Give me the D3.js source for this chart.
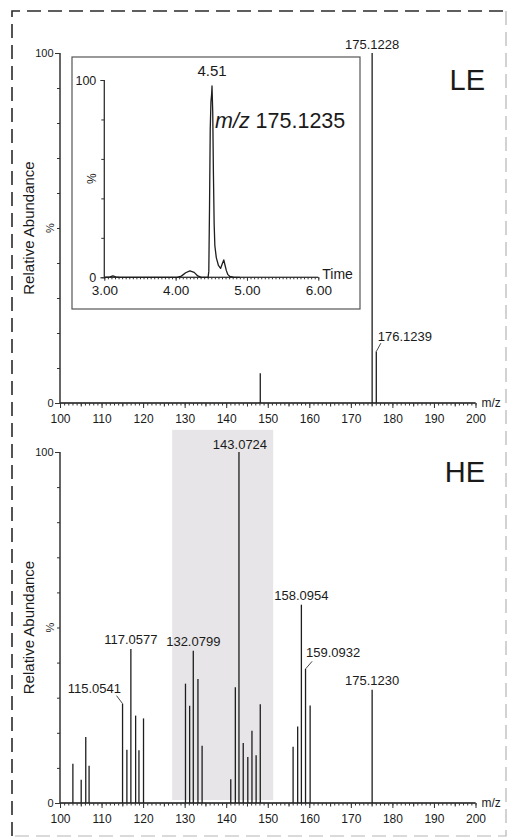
<!DOCTYPE html>
<html>
<head>
<meta charset="utf-8">
<script src="https://cdn.jsdelivr.net/npm/d3@7/dist/d3.min.js"></script>
<style>
  html, body { margin: 0; padding: 0; background: #fff; }
  svg { display: block; }
  text { font-family: "Liberation Sans", Arial, sans-serif; fill: #1a1a1a; }
</style>
</head>
<body>
<svg id="chart" width="508" height="838"></svg>
<script>
// ---- Spectrum data (m/z, relative abundance %) ----
const leMz  = [148.2, 175.1228, 176.1239];
const leInt = [8.5, 100, 14.7];

const heMz  = [103.1, 105.1, 106.2, 107.0, 115.0541, 116.1, 117.0577, 118.2, 119.0, 120.1,
               130.2, 131.2, 132.0799, 133.2, 134.2, 141.1, 142.2, 143.0724, 144.1, 145.2,
               146.2, 147.2, 148.2, 156.1, 157.2, 158.0954, 159.0932, 160.2, 175.1230];
const heInt = [11.2, 6.6, 18.8, 10.6, 28.3, 15.2, 43.9, 24.9, 15.0, 24.1,
               34.0, 27.7, 43.4, 35.3, 16.3, 6.8, 33.0, 100, 17.1, 13.1,
               20.6, 13.6, 28.1, 16.0, 21.8, 56.5, 38.2, 27.8, 32.3];

// annotated peaks
const leLabels = ["175.1228", "176.1239"];
const heLabels = ["115.0541", "117.0577", "132.0799", "143.0724", "158.0954", "159.0932", "175.1230"];

// highlighted m/z window in the HE spectrum
const heHighlight = [127.0, 151.3];

// ---- Extracted ion chromatogram, m/z 175.1235 ----
const chromTime = [3.00, 3.08, 3.12, 3.16, 3.22, 3.60, 4.02, 4.08, 4.14, 4.20, 4.26, 4.31, 4.36,
                   4.455, 4.465, 4.475, 4.485, 4.495, 4.505, 4.51, 4.52, 4.53, 4.54, 4.55, 4.57,
                   4.60, 4.63, 4.655, 4.675, 4.69, 4.71, 4.73, 4.76, 4.82, 4.90];
const chromInt  = [0, 0.2, 0.7, 0.2, 0, 0, 0, 0.6, 2.3, 3.3, 2.5, 0.7, 0,
                   0, 3, 35, 75, 89, 93, 97, 84, 52, 27, 16, 10,
                   6, 4.5, 7, 8.8, 6.5, 3.5, 1.5, 0.4, 0, 0];
const chromApex = 4.51;
const chromTicks = [3.00, 4.00, 5.00, 6.00];

const mzTicks = d3.range(100, 201, 10);

const svg = d3.select("#chart");

// outer dashed frame
const frame = svg.append("g");
frame.append("path").attr("d", "M12,836 L12,11 L506,11")
  .attr("fill", "none").attr("stroke", "#2a2a2a").attr("stroke-width", 1.6)
  .attr("stroke-dasharray", "14,7");
frame.append("path").attr("d", "M506,11 L506,836 L12,836")
  .attr("fill", "none").attr("stroke", "#b5b5b5").attr("stroke-width", 1.2)
  .attr("stroke-dasharray", "14,7");

const x = d3.scaleLinear().domain([100, 200]).range([60, 475.5]);

function drawPanel(cfg) {
  const y = d3.scaleLinear().domain([0, 100]).range([cfg.y0, cfg.y100]);
  const g = svg.append("g");

  if (cfg.highlight) {
    g.append("rect")
      .attr("x", x(cfg.highlight[0]))
      .attr("width", x(cfg.highlight[1]) - x(cfg.highlight[0]))
      .attr("y", y(106.3))
      .attr("height", y(0) - 3 - y(106.3))
      .attr("fill", "#e7e5e7");
  }

  // minor x ticks (every 1 m/z)
  const xMinor = g.append("g").attr("transform", `translate(0,${cfg.y0})`)
    .call(d3.axisBottom(x).tickValues(d3.range(100, 201, 1)).tickSize(2.5).tickFormat(""));
  const xMid = g.append("g").attr("transform", `translate(0,${cfg.y0})`)
    .call(d3.axisBottom(x).tickValues(d3.range(105, 200, 10)).tickSize(3.5).tickFormat(""));
  const xMajor = g.append("g").attr("transform", `translate(0,${cfg.y0})`)
    .call(d3.axisBottom(x).tickValues(mzTicks).tickSize(5).tickPadding(6.5).tickFormat(d3.format("d")));
  [xMinor, xMid, xMajor].forEach(a => {
    a.selectAll("path, line").attr("stroke", "#333").attr("stroke-width", 1);
    a.select(".domain").attr("d", `M${x(100)},0H${x(200)}`);
  });
  xMajor.selectAll("text").attr("font-size", 12).attr("fill", "#1a1a1a")
    .attr("font-family", "Liberation Sans, Arial, sans-serif");

  // y ticks
  const yMinor = g.append("g").attr("transform", `translate(${x(100)},0)`)
    .call(d3.axisLeft(y).tickValues(d3.range(0, 101, 10)).tickSize(3).tickFormat(""));
  const yMajor = g.append("g").attr("transform", `translate(${x(100)},0)`)
    .call(d3.axisLeft(y).tickValues([0, 100]).tickSize(5).tickPadding(1.5).tickFormat(d3.format("d")));
  [yMinor, yMajor].forEach(a => {
    a.selectAll("path, line").attr("stroke", "#333").attr("stroke-width", 1);
    a.select(".domain").attr("d", `M0,${y(0)}V${y(100)}`);
  });
  yMajor.selectAll("text").attr("font-size", 11).attr("fill", "#1a1a1a")
    .attr("font-family", "Liberation Sans, Arial, sans-serif");

  g.append("text").attr("x", x(200) + 6).attr("y", cfg.y0 + 4)
    .attr("font-size", 12).text("m/z");

  const yMid = (cfg.y0 + cfg.y100) / 2;
  g.append("text").attr("transform", `translate(34,${yMid}) rotate(-90)`)
    .attr("text-anchor", "middle").attr("font-size", 15).text("Relative Abundance");
  g.append("text").attr("transform", `translate(54,${yMid}) rotate(-90)`)
    .attr("text-anchor", "middle").attr("font-size", 11).text("%");

  // sticks
  const peaks = cfg.mz.map((m, i) => ({ mz: m, v: cfg.int[i] }));
  g.append("g").selectAll("line").data(peaks).join("line")
    .attr("x1", d => x(d.mz)).attr("x2", d => x(d.mz))
    .attr("y1", y(0)).attr("y2", d => y(d.v))
    .attr("stroke", "#1e1e1e").attr("stroke-width", 1.3);

  // peak annotations
  const lab = g.append("g");
  cfg.labels.forEach(t => {
    const m = +t;
    const p = peaks.find(d => Math.abs(d.mz - m) < 1e-6);
    const px = x(p.mz), py = y(p.v);
    const L = cfg.layout[t] || {};
    if (L.leader) {
      lab.append("line")
        .attr("x1", px).attr("y1", py)
        .attr("x2", px + L.leader[0]).attr("y2", py + L.leader[1])
        .attr("stroke", "#333").attr("stroke-width", 0.9);
    }
    lab.append("text")
      .attr("x", px + (L.dx || 0)).attr("y", py + (L.dy == null ? -4.5 : L.dy))
      .attr("text-anchor", L.anchor || "middle")
      .attr("font-size", 13).text(t);
  });

  svg.append("text").attr("x", 485).attr("y", cfg.tagY)
    .attr("text-anchor", "end").attr("font-family", "Lato, sans-serif")
    .attr("font-size", 29).attr("fill", "#111").text(cfg.tag);
  return { g, y };
}

drawPanel({
  y0: 403, y100: 53, mz: leMz, int: leInt, labels: leLabels, tag: "LE", tagY: 90,
  layout: {
    "176.1239": { leader: [4.6, -8.4], dx: 1.5, dy: -11, anchor: "start" }
  }
});

drawPanel({
  y0: 803, y100: 452, mz: heMz, int: heInt, labels: heLabels, tag: "HE", tagY: 482,
  highlight: heHighlight,
  layout: {
    "143.0724": { dy: -3.5, dx: 1 },
    "115.0541": { leader: [-6, -8], dx: -1.5, dy: -11, anchor: "end" },
    "159.0932": { leader: [6.6, -7.6], dx: 0.5, dy: -12, anchor: "start" }
  }
});

// ---- inset chromatogram ----
const inset = svg.append("g");
inset.append("rect").attr("x", 72).attr("y", 57).attr("width", 288).attr("height", 252)
  .attr("fill", "#fff").attr("stroke", "#555").attr("stroke-width", 1.2);

const tx = d3.scaleLinear().domain([3, 6]).range([104.3, 318.3]);
const ty = d3.scaleLinear().domain([0, 100]).range([277.3, 80]);

const txMinor = inset.append("g").attr("transform", `translate(0,${ty(0)})`)
  .call(d3.axisBottom(tx).tickValues(d3.range(0, 61).map(i => 3 + i * 0.05)).tickSize(2).tickFormat(""));
const txMajor = inset.append("g").attr("transform", `translate(0,${ty(0)})`)
  .call(d3.axisBottom(tx).tickValues(chromTicks).tickSize(3.5).tickPadding(4.5).tickFormat(d3.format(".2f")));
[txMinor, txMajor].forEach(a => {
  a.selectAll("path, line").attr("stroke", "#333").attr("stroke-width", 1);
  a.select(".domain").attr("d", `M${tx(3)},0H${tx(6)}`);
});
txMajor.selectAll("text").attr("font-size", 13.5).attr("fill", "#1a1a1a")
  .attr("font-family", "Liberation Sans, Arial, sans-serif");

const tyMinor = inset.append("g").attr("transform", `translate(${tx(3)},0)`)
  .call(d3.axisLeft(ty).tickValues(d3.range(0, 101, 20)).tickSize(3).tickFormat(""));
const tyMajor = inset.append("g").attr("transform", `translate(${tx(3)},0)`)
  .call(d3.axisLeft(ty).tickValues([0, 100]).tickSize(4).tickPadding(4).tickFormat(d3.format("d")));
[tyMinor, tyMajor].forEach(a => {
  a.selectAll("path, line").attr("stroke", "#333").attr("stroke-width", 1);
  a.select(".domain").attr("d", `M0,${ty(0)}V${ty(100)}`);
});
tyMajor.selectAll("text").attr("font-size", 12.5).attr("fill", "#1a1a1a")
  .attr("font-family", "Liberation Sans, Arial, sans-serif");

inset.append("text").attr("transform", `translate(96,${ty(50)}) rotate(-90)`)
  .attr("text-anchor", "middle").attr("font-size", 12).text("%");
inset.append("text").attr("x", tx(6) + 4).attr("y", ty(0) + 2)
  .attr("font-size", 14).text("Time");

const trace = chromTime.map((t, i) => [t, chromInt[i]]);
inset.append("path").datum(trace)
  .attr("d", d3.line().x(d => tx(d[0])).y(d => ty(d[1])))
  .attr("fill", "none").attr("stroke", "#1e1e1e").attr("stroke-width", 1.3)
  .attr("stroke-linejoin", "round");

const apexIdx = chromTime.indexOf(chromApex);
inset.append("text").attr("x", tx(chromApex)).attr("y", ty(chromInt[apexIdx]) - 10)
  .attr("text-anchor", "middle").attr("font-size", 15).text(chromApex.toFixed(2));

const mzNote = inset.append("text").attr("x", 215).attr("y", 127.5).attr("font-size", 21.5);
mzNote.append("tspan").attr("font-style", "italic").text("m/z");
mzNote.append("tspan").text(" 175.1235");
</script>
</body>
</html>
